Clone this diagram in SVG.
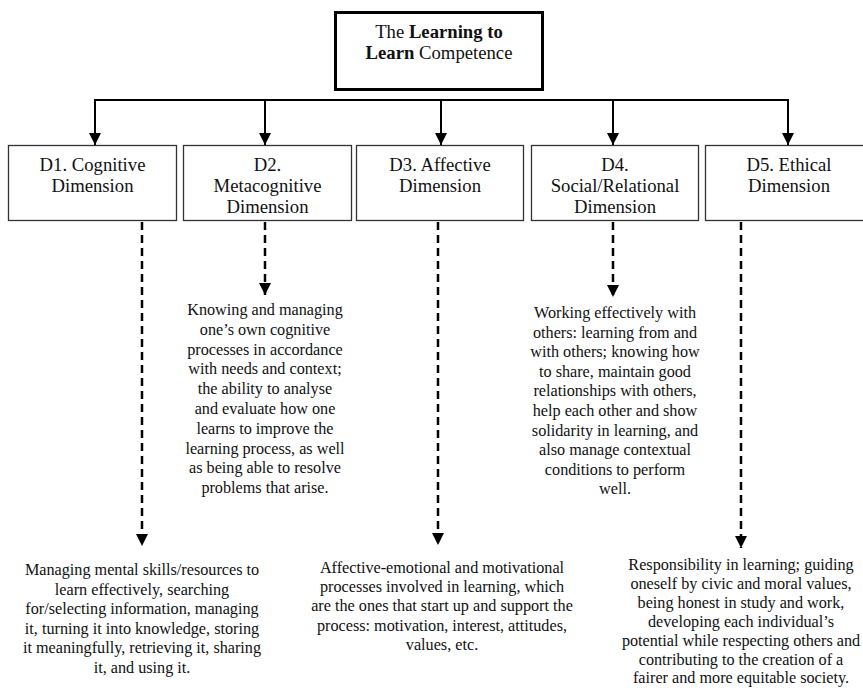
<svg xmlns="http://www.w3.org/2000/svg" width="863" height="688" viewBox="0 0 863 688">
<style>
text{font-family:"Liberation Serif","Times New Roman",serif;fill:#111;text-anchor:middle}
.t{font-size:18.7px}
.d{font-size:16.2px}
.box{fill:#fff;stroke:#333;stroke-width:1.3}
.solid{fill:none;stroke:#000;stroke-width:2}
.dash{fill:none;stroke:#000;stroke-width:2.5;stroke-dasharray:8 5}
</style>
<defs>
<marker id="ah" markerUnits="userSpaceOnUse" markerWidth="12" markerHeight="12" refX="12" refY="6" orient="auto" viewBox="0 0 12 12">
<path d="M0,0 L12,6 L0,12 z" fill="#000"/>
</marker>
</defs>
<rect width="863" height="688" fill="#fff"/>
<g id="connectors">
<path class="solid" d="M95,100 H788"/>
<path class="solid" d="M95,99 V145" marker-end="url(#ah)"/>
<path class="solid" d="M265,100 V145" marker-end="url(#ah)"/>
<path class="solid" d="M441,100 V145" marker-end="url(#ah)"/>
<path class="solid" d="M613,100 V145" marker-end="url(#ah)"/>
<path class="solid" d="M788,99 V145" marker-end="url(#ah)"/>
<path class="dash" d="M142,222 V546" marker-end="url(#ah)"/>
<path class="dash" d="M265,222 V295" marker-end="url(#ah)"/>
<path class="dash" d="M438,222 V545" marker-end="url(#ah)"/>
<path class="dash" d="M613,222 V297" marker-end="url(#ah)"/>
<path class="dash" d="M741,222 V548" marker-end="url(#ah)"/>
</g>
<g id="root">
<rect x="335.5" y="12.5" width="207" height="77" fill="#fff" stroke="#000" stroke-width="3"/>
<text class="t" x="439" y="38">The <tspan font-weight="bold">Learning to</tspan></text>
<text class="t" x="439" y="59"><tspan font-weight="bold">Learn</tspan> Competence</text>
</g>
<g id="d1">
<rect class="box" x="8.5" y="145.5" width="168" height="75"/>
<text class="t" x="92.5" y="171">D1. Cognitive</text>
<text class="t" x="92.5" y="192">Dimension</text>
</g>
<g id="d2">
<rect class="box" x="183.5" y="145.5" width="168" height="75"/>
<text class="t" x="267.5" y="171">D2.</text>
<text class="t" x="267.5" y="192">Metacognitive</text>
<text class="t" x="267.5" y="213">Dimension</text>
</g>
<g id="d3">
<rect class="box" x="356.5" y="145.5" width="167" height="75"/>
<text class="t" x="440" y="171">D3. Affective</text>
<text class="t" x="440" y="192">Dimension</text>
</g>
<g id="d4">
<rect class="box" x="531.5" y="145.5" width="167" height="75"/>
<text class="t" x="615" y="171">D4.</text>
<text class="t" x="615" y="192">Social/Relational</text>
<text class="t" x="615" y="213">Dimension</text>
</g>
<g id="d5">
<rect class="box" x="705.5" y="145.5" width="168" height="75"/>
<text class="t" x="789" y="171">D5. Ethical</text>
<text class="t" x="789" y="192">Dimension</text>
</g>
<g id="d1-desc">
<text class="d" x="142" y="575">Managing mental skills/resources to</text>
<text class="d" x="142" y="594.6">learn effectively, searching</text>
<text class="d" x="142" y="614.2">for/selecting information, managing</text>
<text class="d" x="142" y="633.8">it, turning it into knowledge, storing</text>
<text class="d" x="142" y="653.4">it meaningfully, retrieving it, sharing</text>
<text class="d" x="142" y="673">it, and using it.</text>
</g>
<g id="d2-desc">
<text class="d" x="265" y="315">Knowing and managing</text>
<text class="d" x="265" y="334.8">one’s own cognitive</text>
<text class="d" x="265" y="354.6">processes in accordance</text>
<text class="d" x="265" y="374.4">with needs and context;</text>
<text class="d" x="265" y="394.2">the ability to analyse</text>
<text class="d" x="265" y="414">and evaluate how one</text>
<text class="d" x="265" y="433.8">learns to improve the</text>
<text class="d" x="265" y="453.6">learning process, as well</text>
<text class="d" x="265" y="473.4">as being able to resolve</text>
<text class="d" x="265" y="493.2">problems that arise.</text>
</g>
<g id="d3-desc">
<text class="d" x="442" y="573">Affective-emotional and motivational</text>
<text class="d" x="442" y="592.2">processes involved in learning, which</text>
<text class="d" x="442" y="611.4">are the ones that start up and support the</text>
<text class="d" x="442" y="630.6">process: motivation, interest, attitudes,</text>
<text class="d" x="442" y="649.8">values, etc.</text>
</g>
<g id="d4-desc">
<text class="d" x="615" y="318">Working effectively with</text>
<text class="d" x="615" y="337.6">others: learning from and</text>
<text class="d" x="615" y="357.2">with others; knowing how</text>
<text class="d" x="615" y="376.8">to share, maintain good</text>
<text class="d" x="615" y="396.4">relationships with others,</text>
<text class="d" x="615" y="416">help each other and show</text>
<text class="d" x="615" y="435.6">solidarity in learning, and</text>
<text class="d" x="615" y="455.2">also manage contextual</text>
<text class="d" x="615" y="474.8">conditions to perform</text>
<text class="d" x="615" y="494.4">well.</text>
</g>
<g id="d5-desc">
<text class="d" x="741" y="570">Responsibility in learning; guiding</text>
<text class="d" x="741" y="588.9">oneself by civic and moral values,</text>
<text class="d" x="741" y="607.8">being honest in study and work,</text>
<text class="d" x="741" y="626.7">developing each individual’s</text>
<text class="d" x="741" y="645.6">potential while respecting others and</text>
<text class="d" x="741" y="664.5">contributing to the creation of a</text>
<text class="d" x="741" y="683.4">fairer and more equitable society.</text>
</g>
</svg>
